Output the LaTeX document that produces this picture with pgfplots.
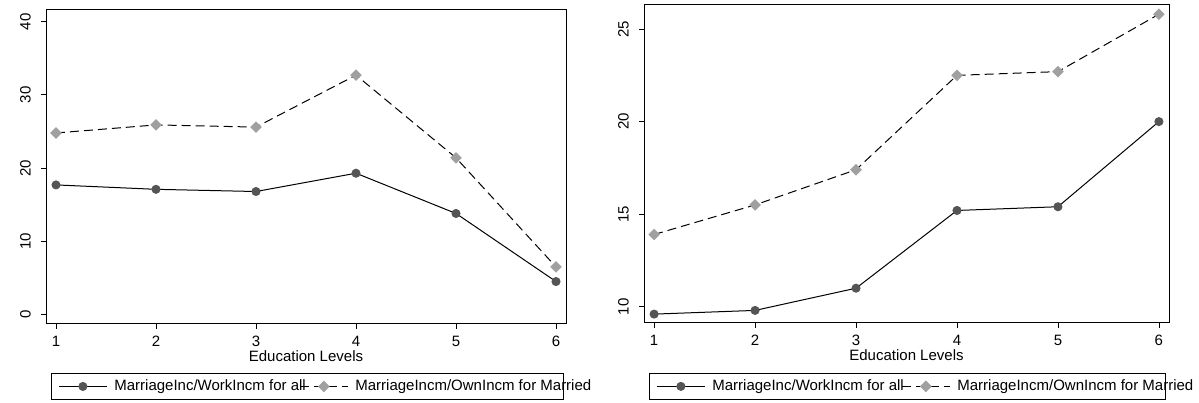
\documentclass[border=0pt]{standalone}
\usepackage{pgfplots}
\pgfplotsset{compat=1.18}
\usepackage{pgfplotstable}
\usepackage{fontspec}
\setmainfont{Liberation Sans}
\definecolor{dotgray}{HTML}{555555}
\definecolor{diagray}{HTML}{A0A0A0}

\pgfplotstableread{
x all married
1 17.7 24.8
2 17.1 25.9
3 16.8 25.6
4 19.3 32.7
5 13.8 21.4
6 4.5 6.5
}\leftdata

\pgfplotstableread{
x all married
1 9.6 13.9
2 9.8 15.5
3 11.0 17.4
4 15.2 22.5
5 15.4 22.7
6 20.0 25.8
}\rightdata

\pgfplotsset{
  common/.style={
    scale only axis,
    anchor=south west,
    xmin=0.9, xmax=6.1,
    xtick={1,2,3,4,5,6},
    tick align=outside,
    xtick pos=left, ytick pos=left,
    major tick length=5pt,
    tick style={black, line width=0.8pt},
    axis line style={black, line width=1pt},
    /pgf/number format/assume math mode=true,
    ticklabel style={font=\fontsize{15}{18}\selectfont},
    yticklabel style={rotate=90, anchor=south, inner sep=0pt},
    yticklabel shift=10pt,
    xticklabel style={anchor=north, inner sep=0pt},
    xticklabel shift=7pt,
    xlabel={Education Levels},
    xlabel style={at={(axis description cs:0.5,0)}, anchor=center, yshift=-32pt, font=\fontsize{15}{18}\selectfont},
    legend columns=2,
    legend cell align=left,
    legend style={draw=black, line width=0.8pt, inner xsep=7pt, inner ysep=6.5pt,
      font=\fontsize{15}{18}\selectfont,
      nodes={inner sep=0pt},
      column sep=0pt,
      /tikz/every odd column/.append style={column sep=7pt}},
    legend image code/.code={\draw[mark repeat=2,mark phase=2,#1] plot coordinates {(0pt,0pt) (24pt,0pt) (48pt,0pt)};},
  },
  sall/.style={black, line width=1pt, mark=*, mark size=4pt, mark options={solid, fill=dotgray, draw=dotgray}},
  smar/.style={black, line width=1pt, dash pattern=on 9pt off 5pt, mark=square*, mark size=3.6pt, mark options={solid, rotate=45, fill=diagray, draw=diagray}},
}

\begin{document}
\fontsize{15}{18}\selectfont
\begin{tikzpicture}
\useasboundingbox (0pt,0pt) rectangle (1199pt,403pt);
\begin{axis}[common,
  at={(46pt,79pt)}, width=520pt, height=314pt,
  ymin=-1.3, ymax=41.6, ytick={0,10,20,30,40},
  legend style={at={(axis description cs:0.0096,-0.156)}, anchor=north west},
]
\addplot[sall] table[x=x, y=all] {\leftdata};
\addlegendentry{\makebox[185pt][l]{MarriageInc/WorkIncm for all}}
\addplot[smar] table[x=x, y=married] {\leftdata};
\addlegendentry{\makebox[201pt][l]{MarriageIncm/OwnIncm for Married}}
\end{axis}
\begin{axis}[common,
  at={(644pt,80pt)}, width=525pt, height=318pt,
  ymin=9.12, ymax=26.3, ytick={10,15,20,25},
  legend style={at={(axis description cs:0.0095,-0.157)}, anchor=north west},
]
\addplot[sall] table[x=x, y=all] {\rightdata};
\addlegendentry{\makebox[189pt][l]{MarriageInc/WorkIncm for all}}
\addplot[smar] table[x=x, y=married] {\rightdata};
\addlegendentry{\makebox[201pt][l]{MarriageIncm/OwnIncm for Married}}
\end{axis}
\end{tikzpicture}
\end{document}
